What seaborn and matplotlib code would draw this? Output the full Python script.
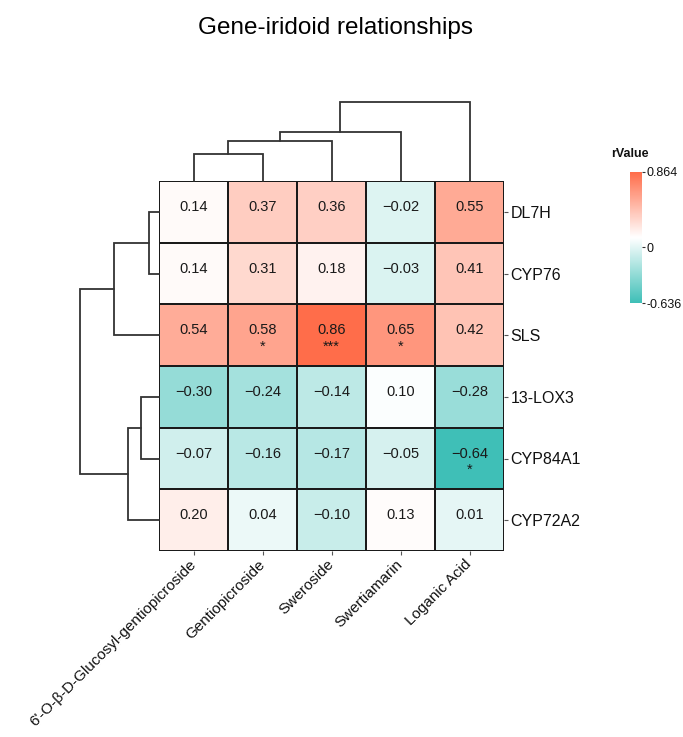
import numpy as np
import pandas as pd
import matplotlib
matplotlib.use("Agg")
import matplotlib.pyplot as plt
import matplotlib.transforms as mtransforms
from matplotlib.colors import LinearSegmentedColormap
import seaborn as sns

# ---------------- data ----------------
genes = ["DL7H", "CYP76", "SLS", "13-LOX3", "CYP84A1", "CYP72A2"]
compounds = ["6'-O-β-D-Glucosyl-gentiopicroside", "Gentiopicroside",
             "Sweroside", "Swertiamarin", "Loganic Acid"]

r_dl7h    = [0.14, 0.37, 0.36, -0.02, 0.55]
r_cyp76   = [0.14, 0.31, 0.18, -0.03, 0.41]
r_sls     = [0.54, 0.58, 0.86, 0.65, 0.42]
r_13lox3  = [-0.30, -0.24, -0.14, 0.10, -0.28]
r_cyp84a1 = [-0.07, -0.16, -0.17, -0.05, -0.64]
r_cyp72a2 = [0.20, 0.04, -0.10, 0.13, 0.01]

sig_dl7h    = ["", "", "", "", ""]
sig_cyp76   = ["", "", "", "", ""]
sig_sls     = ["", "*", "***", "*", ""]
sig_13lox3  = ["", "", "", "", ""]
sig_cyp84a1 = ["", "", "", "", "*"]
sig_cyp72a2 = ["", "", "", "", ""]

r_min, r_max = -0.636, 0.864
cbar_ticks = [r_max, 0, r_min]
cbar_ticklabels = ["0.864", "0", "-0.636"]

# dendrogram merges: (left cluster, right cluster, height); new clusters numbered n, n+1, ...
col_merges = [(0, 1, 26.7), (5, 2, 40.3), (6, 3, 48.7), (7, 4, 79.0)]
row_merges = [(0, 1, 9.7), (6, 2, 45.0), (3, 4, 18.3), (8, 5, 31.0), (7, 9, 79.0)]

# ---------------- figure ----------------
sns.set_theme(style="white")
plt.rcParams["font.family"] = ["Liberation Sans", "DejaVu Sans"]

W, H = 683, 737
fig = plt.figure(figsize=(W / 100, H / 100), dpi=100)

def fax(x0, y0, x1, y1):
    return fig.add_axes([x0 / W, 1 - y1 / H, (x1 - x0) / W, (y1 - y0) / H])

hx0, hy0, hx1, hy1 = 159, 181, 504, 551
ax = fax(hx0, hy0, hx1, hy1)
ax_top = fax(hx0, 102, hx1, hy0)
ax_left = fax(80, hy0, hx0, hy1)
cax = fax(630, 172, 642, 303)

df = pd.DataFrame([r_dl7h, r_cyp76, r_sls, r_13lox3, r_cyp84a1, r_cyp72a2],
                  index=genes, columns=compounds)
sig = [sig_dl7h, sig_cyp76, sig_sls, sig_13lox3, sig_cyp84a1, sig_cyp72a2]

cmap = LinearSegmentedColormap.from_list("rv", ["#3fbfb7", "#ffffff", "#ff6d4a"])

sns.heatmap(df, ax=ax, cmap=cmap, vmin=r_min, vmax=r_max,
            linewidths=1.1, linecolor="#1a1a1a", cbar_ax=cax,
            cbar_kws={"ticks": cbar_ticks})

# annotations
t_num = mtransforms.offset_copy(ax.transData, fig=fig, x=0, y=0.6, units="points")
t_sig = mtransforms.offset_copy(ax.transData, fig=fig, x=0, y=-11.2, units="points")
for i in range(df.shape[0]):
    for j in range(df.shape[1]):
        ax.text(j + 0.5, i + 0.5, f"{df.iat[i, j]:.2f}".replace("-", "\u2212"),
                transform=t_num, ha="center", va="baseline",
                fontsize=10.5, color="#1a1a1a")
        if sig[i][j]:
            ax.text(j + 0.5, i + 0.5, sig[i][j], transform=t_sig,
                    ha="center", va="baseline", fontsize=10.5, color="#1a1a1a")

ax.yaxis.tick_right()
ax.set_yticks(np.arange(len(genes)) + 0.5)
ax.set_yticklabels(genes, rotation=0, fontsize=11.5, color="#111111")
ax.set_xticks(np.arange(len(compounds)) + 0.5)
ax.set_xticklabels(compounds, rotation=45, ha="right", va="center",
                   rotation_mode="anchor", fontsize=11, color="#111111")
ax.tick_params(axis="y", which="both", right=True, left=False, length=3,
               width=0.8, color="#555555", pad=1.5)
ax.tick_params(axis="x", which="both", bottom=True, length=3,
               width=0.8, color="#555555", pad=5)
ax.set_xlabel("")
ax.set_ylabel("")

# colorbar
cb = ax.collections[0].colorbar
cb.set_ticks(cbar_ticks)
cb.set_ticklabels(cbar_ticklabels)
cb.outline.set_visible(False)
cax.tick_params(labelsize=9, length=2.5, width=0.8, color="#333333", pad=0.5,
                labelcolor="#111111")
fig.text(629.5 / W, 1 - 154 / H, "rValue", ha="center", va="center",
         fontsize=9, fontweight="bold", color="#111111")

# dendrograms
def draw_dendro(axd, merges, n, orient):
    pos = {i: i + 0.5 for i in range(n)}
    hgt = {i: 0.0 for i in range(n)}
    for k, (a, b, d) in enumerate(merges):
        xs = [pos[a], pos[a], pos[b], pos[b]]
        ys = [hgt[a], d, d, hgt[b]]
        if orient == "top":
            axd.plot(xs, ys, color="#333333", lw=1.3, clip_on=False,
                     solid_joinstyle="miter")
        else:
            axd.plot(ys, xs, color="#333333", lw=1.3, clip_on=False,
                     solid_joinstyle="miter")
        pos[n + k] = (pos[a] + pos[b]) / 2
        hgt[n + k] = d
    axd.axis("off")

draw_dendro(ax_top, col_merges, len(compounds), "top")
ax_top.set_xlim(0, len(compounds))
ax_top.set_ylim(0, max(m[2] for m in col_merges))

draw_dendro(ax_left, row_merges, len(genes), "left")
ax_left.set_xlim(max(m[2] for m in row_merges), 0)
ax_left.set_ylim(len(genes), 0)

fig.text(335.5 / W, 1 - 28 / H, "Gene-iridoid relationships", ha="center",
         va="center", fontsize=17.5, color="#000000")

fig.savefig("out.png", dpi=100)
